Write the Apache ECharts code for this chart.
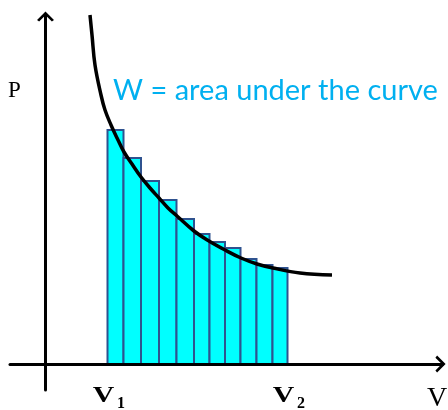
<!DOCTYPE html>
<html>
<head>
<meta charset="utf-8">
<script src="https://cdn.jsdelivr.net/npm/echarts@6/dist/echarts.min.js"></script>
<style>
  html, body { margin: 0; padding: 0; background: #fff; }
  #chart { width: 448px; height: 410px; }
</style>
</head>
<body>
<div id="chart"></div>
<script>
// bar edges along V and bar heights (P)
var barEdges = [62, 78, 95.5, 113.5, 131, 148.5, 164, 179.5, 195, 211, 227, 242];
var barTops = [234, 206, 183, 164, 145, 130, 122, 116, 105, 99, 96];
// the P(V) curve
var curveV = [44.5, 46.5, 49.5, 55.5, 59.5, 65.5, 72.5, 78.5, 86.5, 95.5, 104.5, 113.5, 122.5, 131.5, 148.5, 163.5, 179.5, 195.5, 211.5, 227.5, 254.5, 286.5];
var curveP = [349, 329, 299, 269, 254, 239, 224, 212, 200, 187, 176, 166, 156, 148, 133, 123, 114, 106, 100, 96, 91, 89];
// V1 and V2 sit under the first and last bar edge
var tickValues = [62, 242];
var tickSubs = ['1', '2'];

var bars = [];
for (var i = 0; i < barTops.length; i++) {
    bars.push([barEdges[i], barEdges[i + 1], barTops[i]]);
}
var curve = [];
for (var j = 0; j < curveV.length; j++) {
    curve.push([curveV[j], curveP[j]]);
}

var arrow = 'path://M10 0 L20 10 L17.5 12 L10 4.5 L2.5 12 L0 10 Z';

var myChart = echarts.init(document.getElementById('chart'));
myChart.setOption({
    animation: false,
    grid: { left: 10, right: 5.5, top: 14.5, bottom: 20, containLabel: false, outerBoundsMode: 'none' },
    xAxis: {
        type: 'value', min: -35.5, max: 397, z: 5,
        splitLine: { show: false },
        axisTick: { show: false },
        axisLabel: { show: false },
        axisLine: {
            lineStyle: { color: '#000', width: 3 },
            symbol: ['none', arrow], symbolSize: [17, 11], symbolOffset: [0, -2]
        }
    },
    yAxis: {
        type: 'value', min: -26, max: 349.5, z: 5,
        splitLine: { show: false },
        axisTick: { show: false },
        axisLabel: { show: false },
        axisLine: {
            lineStyle: { color: '#000', width: 3 },
            symbol: ['none', arrow], symbolSize: [17, 11], symbolOffset: [0, -2]
        }
    },
    graphic: [
        { type: 'text', style: { text: 'P', x: 8, y: 91, verticalAlign: 'middle', font: '23px "Liberation Serif"', fill: '#000' } },
        { type: 'text', style: { text: 'V', x: 427, y: 398.5, verticalAlign: 'middle', font: '28px "Liberation Serif"', fill: '#000' } },
        { type: 'text', style: { text: 'W = area under the curve', x: 113, y: 91, verticalAlign: 'middle', font: '29px Lato', fill: '#00B0F0' } }
    ],
    series: [
        {
            type: 'custom',
            data: bars,
            encode: { x: [0, 1], y: 2 },
            renderItem: function (params, api) {
                var p0 = api.coord([api.value(0), 0]);
                var p1 = api.coord([api.value(1), api.value(2)]);
                return {
                    type: 'rect',
                    shape: { x: p0[0], y: p1[1], width: p1[0] - p0[0], height: p0[1] - p1[1] },
                    style: { fill: '#00FFFF', stroke: '#2F528F', lineWidth: 2 }
                };
            }
        },
        {
            type: 'line',
            data: curve,
            smooth: 0.4,
            symbol: 'none',
            clip: false,
            lineStyle: { color: '#000', width: 3.5 },
            z: 4
        },
        {
            // V1 / V2 labels placed through the x scale
            type: 'custom',
            data: tickValues,
            encode: { x: 0 },
            renderItem: function (params, api) {
                var p = api.coord([api.value(0), 0]);
                return {
                    type: 'group',
                    children: [
                        {
                            type: 'text', x: p[0] - 4, y: p[1] + 32.5, scaleX: 1.3,
                            style: { text: 'V', align: 'center', verticalAlign: 'middle', font: 'bold 23px "Liberation Serif"', fill: '#000' }
                        },
                        {
                            type: 'text', x: p[0] + 9.5, y: p[1] + 39.5,
                            style: { text: tickSubs[params.dataIndex], align: 'left', verticalAlign: 'middle', font: 'bold 16px "Liberation Serif"', fill: '#000' }
                        }
                    ]
                };
            }
        }
    ]
});
</script>
</body>
</html>
